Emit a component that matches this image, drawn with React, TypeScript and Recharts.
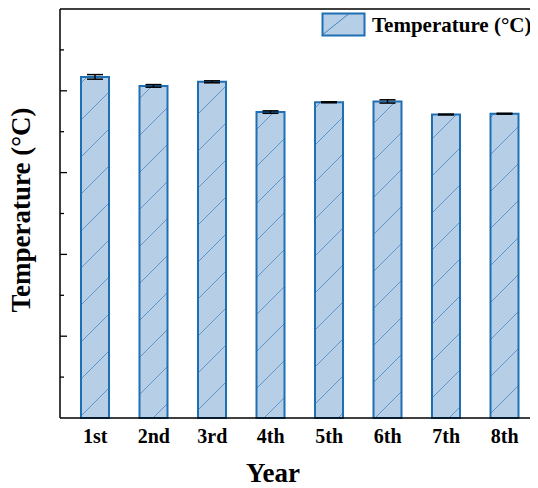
import React from 'react';
import { BarChart, Bar, XAxis, YAxis, ErrorBar, ReferenceLine, Label } from 'recharts';

const categories = ['1st', '2nd', '3rd', '4th', '5th', '6th', '7th', '8th'];
const temperature = [4.17, 4.06, 4.11, 3.74, 3.86, 3.87, 3.71, 3.72];
const tempError = [0.028, 0.016, 0.012, 0.015, 0.006, 0.02, 0.005, 0.005];
const yTicks = [0, 0.5, 1, 1.5, 2, 2.5, 3, 3.5, 4, 4.5, 5];
const seriesName = 'Temperature (°C)';

const data = categories.map((c, i) => ({ name: c, value: temperature[i], err: tempError[i] }));

const FILL = '#b7cee7';
const STROKE = '#1f6fb4';
const FONT = '"Liberation Serif", "Times New Roman", serif';

const YTick = (props: any) => {
  const { x, y, payload } = props;
  if (payload.value === 0 || payload.value === 5) return null;
  const major = Number.isInteger(payload.value);
  return <line x1={x} y1={y} x2={x + (major ? 7 : 4)} y2={y} stroke="#000" strokeWidth={1.3} />;
};

const LegendBox = () => (
  <div
    style={{
      position: 'absolute',
      top: 4,
      left: 313,
      display: 'flex',
      alignItems: 'center',
      fontFamily: FONT,
      fontWeight: 'bold',
      fontSize: 21,
      whiteSpace: 'nowrap',
    }}
  >
    <svg width={46} height={26} style={{ display: 'block' }}>
      <defs>
        <pattern id="hatchLegend" patternUnits="userSpaceOnUse" width={44} height={24}>
          <line x1={0} y1={24} x2={30} y2={0} stroke={STROKE} strokeWidth={0.8} />
        </pattern>
      </defs>
      <rect x={1.5} y={1.5} width={42} height={22} fill={FILL} stroke={STROKE} strokeWidth={2} />
      <rect x={1.5} y={1.5} width={42} height={22} fill="url(#hatchLegend)" />
    </svg>
    <span style={{ marginLeft: 5, color: '#000' }}>{seriesName}</span>
  </div>
);

export default function App() {
  return (
    <div style={{ position: 'relative', width: 530, height: 480 }}>
      <BarChart
        width={530}
        height={480}
        data={data}
        margin={{ top: 1, right: 0, bottom: 0, left: 51 }}
        style={{ fontFamily: FONT }}
      >
        <defs>
          <pattern id="hatch" patternUnits="userSpaceOnUse" width={37} height={37}>
            <rect width={37} height={37} fill={FILL} />
            <line x1={0} y1={37} x2={37} y2={0} stroke={STROKE} strokeWidth={0.8} opacity={0.75} />
            <line x1={-37} y1={37} x2={0} y2={0} stroke={STROKE} strokeWidth={0.8} opacity={0.75} />
            <line x1={37} y1={37} x2={74} y2={0} stroke={STROKE} strokeWidth={0.8} opacity={0.75} />
          </pattern>
        </defs>
        <XAxis
          dataKey="name"
          height={70}
          tickLine={false}
          tickSize={0}
          tickMargin={11}
          axisLine={{ stroke: '#000', strokeWidth: 1.5 }}
          padding={{ left: 6, right: 4 }}
          tick={{ fill: '#000', fontSize: 20, fontWeight: 'bold', fontFamily: FONT }}
        >
          <Label
            content={() => (
              <text x={265} y={474} textAnchor="middle" fontSize={27} fontWeight="bold" fontFamily={FONT} fill="#000">
                Year
              </text>
            )}
          />
        </XAxis>
        <YAxis
          width={1}
          domain={[0, 5]}
          ticks={yTicks}
          interval={0}
          tickLine={false}
          tickSize={0}
          tickMargin={0}
          axisLine={{ stroke: '#000', strokeWidth: 1.5 }}
          tick={<YTick />}
        >
          <Label
            content={() => (
              <text
                x={22}
                y={202}
                transform="rotate(-90 22 202)"
                textAnchor="middle"
                fontSize={27}
                fontWeight="bold"
                fontFamily={FONT}
                fill="#000"
              >
                {seriesName}
              </text>
            )}
          />
        </YAxis>
        <ReferenceLine y={5} stroke="#000" strokeWidth={1.5} ifOverflow="visible" />
        <Bar dataKey="value" barSize={28} fill="url(#hatch)" stroke={STROKE} strokeWidth={2} isAnimationActive={false}>
          <ErrorBar dataKey="err" width={8} stroke="#000" strokeWidth={1.5} direction="y" isAnimationActive={false} />
        </Bar>
      </BarChart>
      <LegendBox />
    </div>
  );
}
